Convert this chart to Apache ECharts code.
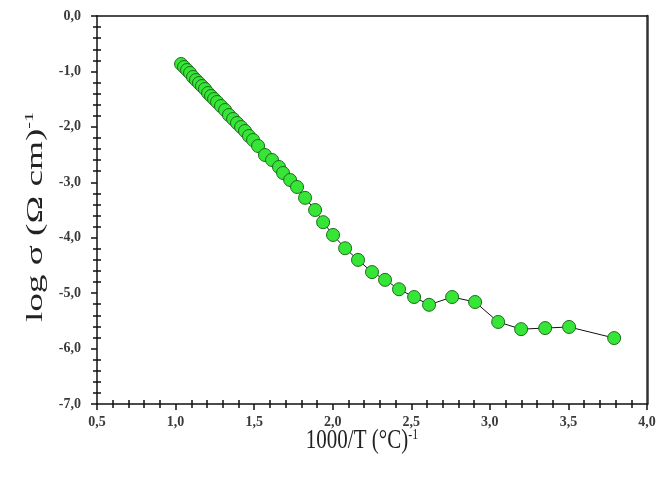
<!DOCTYPE html>
<html>
<head>
<meta charset="utf-8">
<script src="https://cdn.jsdelivr.net/npm/echarts@6/dist/echarts.min.js"></script>
<style>html,body{margin:0;padding:0;background:#fff}#c{width:659px;height:480px}</style>
</head>
<body>
<div id="c"></div>
<script>
var xValues = [1.035,1.054,1.073,1.092,1.111,1.130,1.149,1.168,1.187,1.207,1.226,1.245,1.264,1.289,1.315,1.340,1.366,1.391,1.417,1.442,1.467,1.493,1.525,1.569,1.614,1.658,1.684,1.729,1.773,1.824,1.888,1.939,2.002,2.079,2.161,2.250,2.333,2.422,2.518,2.613,2.760,2.906,3.053,3.199,3.352,3.504,3.791];
var yValues = [-0.866,-0.920,-0.974,-1.028,-1.100,-1.155,-1.209,-1.263,-1.317,-1.389,-1.443,-1.497,-1.551,-1.624,-1.696,-1.786,-1.858,-1.930,-2.003,-2.075,-2.165,-2.237,-2.345,-2.508,-2.598,-2.724,-2.832,-2.959,-3.085,-3.28,-3.50,-3.72,-3.95,-4.19,-4.40,-4.62,-4.76,-4.93,-5.07,-5.21,-5.07,-5.16,-5.52,-5.65,-5.63,-5.61,-5.81];
var xTicks = [0.5,1.0,1.5,2.0,2.5,3.0,3.5,4.0];
var yTicks = [0,-1,-2,-3,-4,-5,-6,-7];
var xTitle = '1000/T (°C)';
var yTitle = 'log σ (Ω cm)';
var titleExp = '-1';

var data = xValues.map(function(x,i){return [x,yValues[i]];});
var fmt = function(v){return v.toFixed(1).replace('.',',');};
var serif = '"Liberation Serif","Times New Roman",serif';
var lineStyle = {color:'#111', width:1.5};
var tickLine = {color:'#111', width:1.5};
var gridBox = {left:97,right:12,top:16,bottom:76};
var xMin = xTicks[0], xMax = xTicks[xTicks.length-1];
var yMin = yTicks[yTicks.length-1], yMax = yTicks[0];

var chart = echarts.init(document.getElementById('c'));
chart.setOption({
  backgroundColor:'#fff',
  animation:false,
  grid:[Object.assign({},gridBox), Object.assign({},gridBox)],
  xAxis:[
    {gridIndex:0,type:'value',min:xMin,max:xMax,interval:0.5,position:'bottom',
     axisLine:{show:true,onZero:false,lineStyle:lineStyle},
     axisTick:{show:true,inside:false,length:6,lineStyle:tickLine},
     minorTick:{show:true,splitNumber:5,length:4,lineStyle:tickLine},
     axisLabel:{formatter:fmt,fontFamily:serif,fontWeight:'bold',fontSize:14,color:'#3a3a3a',margin:11},
     splitLine:{show:false}},
    {gridIndex:0,type:'value',min:xMin,max:xMax,position:'top',
     axisLine:{show:true,onZero:false,lineStyle:lineStyle},axisTick:{show:false},axisLabel:{show:false},splitLine:{show:false}},
    {gridIndex:1,type:'value',min:xMin,max:xMax,interval:0.5,position:'bottom',
     axisLine:{show:false,onZero:false},
     axisTick:{show:false,inside:true},
     minorTick:{show:true,splitNumber:5,length:4,lineStyle:tickLine},
     axisLabel:{show:false},splitLine:{show:false}}
  ],
  yAxis:[
    {gridIndex:0,type:'value',min:yMin,max:yMax,interval:1,position:'left',
     axisLine:{show:true,onZero:false,lineStyle:lineStyle},
     axisTick:{show:true,inside:false,length:6,lineStyle:tickLine},
     minorTick:{show:true,splitNumber:5,length:4,lineStyle:tickLine},
     axisLabel:{formatter:fmt,fontFamily:serif,fontWeight:'bold',fontSize:14,color:'#3a3a3a',margin:16},
     splitLine:{show:false}},
    {gridIndex:0,type:'value',min:yMin,max:yMax,position:'right',
     axisLine:{show:true,onZero:false,lineStyle:{color:'#333',width:2.5}},axisTick:{show:false},axisLabel:{show:false},splitLine:{show:false}},
    {gridIndex:1,type:'value',min:yMin,max:yMax,interval:1,position:'left',
     axisLine:{show:false,onZero:false},
     axisTick:{show:false,inside:true},
     minorTick:{show:true,splitNumber:5,length:4,lineStyle:tickLine},
     axisLabel:{show:false},splitLine:{show:false}}
  ],
  graphic:[
    {type:'text',x:362,y:441,scaleY:1.3,
     style:{text:'{a|'+xTitle+'}{b|'+titleExp+'}',align:'center',verticalAlign:'middle',
       rich:{a:{fontFamily:serif,fontSize:21,fill:'#222'},b:{fontFamily:serif,fontSize:12,fill:'#222',verticalAlign:'top',padding:[0,0,10,0]}}}},
    {type:'text',x:36,y:217,rotation:Math.PI/2,scaleX:1.55,
     style:{text:'{a|'+yTitle+'}{b|'+titleExp+'}',align:'center',verticalAlign:'middle',
       rich:{a:{fontFamily:serif,fontSize:24,fill:'#222'},b:{fontFamily:serif,fontSize:13,fill:'#222',verticalAlign:'top',padding:[0,0,12,0]}}}}
  ],
  series:[{
    type:'line',data:data,xAxisIndex:0,yAxisIndex:0,
    symbol:'circle',symbolSize:13,
    lineStyle:{color:'#111',width:1},
    itemStyle:{color:'#36e636',borderColor:'#1f6b1f',borderWidth:1}
  }]
});
</script>
</body>
</html>
